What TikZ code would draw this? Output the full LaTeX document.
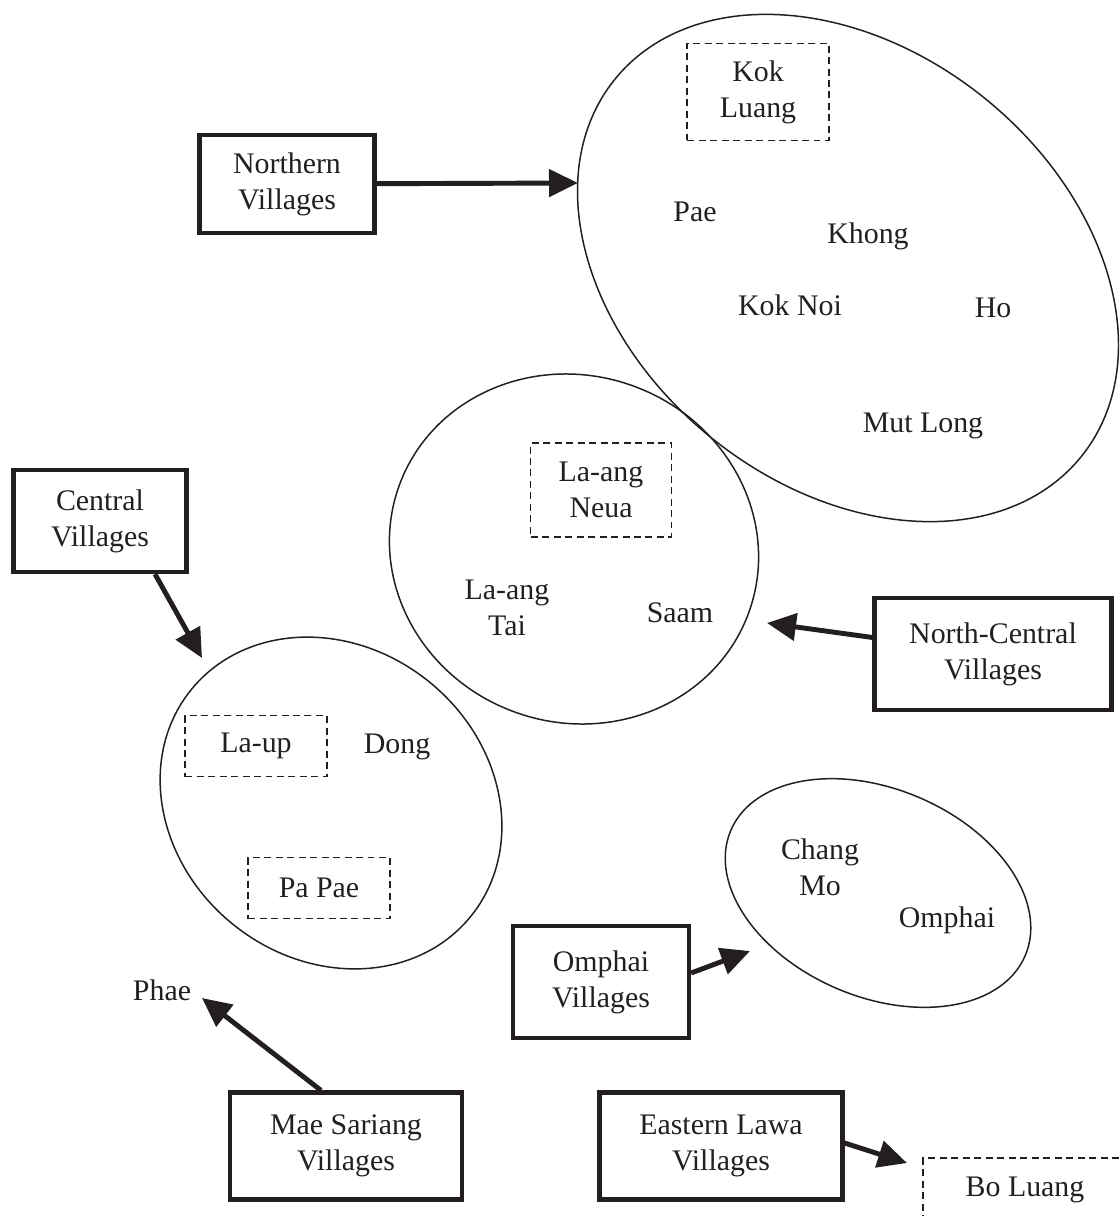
\documentclass[tikz,border=0pt]{standalone}
\usepackage{fontspec}
\setmainfont{Liberation Serif}
\usetikzlibrary{shapes.geometric,arrows.meta}
\definecolor{inkc}{HTML}{231F20}

\begin{document}
\begin{tikzpicture}[x=0.02cm, y=-0.02cm,
    every node/.style={font=\fontsize{17}{20.5}\selectfont, align=center, text=inkc, inner sep=0pt},
    grp/.style={draw=inkc, line width=2.4pt},
    vil/.style={draw=inkc, line width=1.1pt, dash pattern=on 0.14cm off 0.09cm},
    area/.style={ellipse, draw=inkc, line width=0.85pt},
    arr/.style={draw=inkc, line width=2.8pt, -{Triangle[length=0.58cm,width=0.54cm]}}]
    \useasboundingbox (0,0) rectangle (1119,1216);
    \clip (0,0) rectangle (1119,1216);
    % village areas
    \node[area, minimum width=12cm, minimum height=8.72cm, rotate=-39] (north) at (848,268) {};
    \node[area, minimum width=7.44cm, minimum height=6.94cm, rotate=-20] (ncentral) at (574,549) {};
    \node[area, minimum width=7.2cm, minimum height=6.24cm, rotate=-39] (central) at (331,803) {};
    \node[area, minimum width=6.4cm, minimum height=4.16cm, rotate=-23] (omphai) at (878,893) {};
    % northern villages
    \node[vil, minimum width=2.84cm, minimum height=1.94cm] (kl) at (758,92) {Kok\\Luang};
    \node (pae) at (695,212) {Pae};
    \node (khong) at (868,236) {Khong};
    \node (kn) at (790,305) {Kok Noi};
    \node (ho) at (993,308) {Ho};
    \node (ml) at (923,426) {Mut Long};
    % north-central villages
    \node[vil, minimum width=2.82cm, minimum height=1.88cm] (lan) at (601,490) {La-ang\\Neua};
    \node (lat) at (507,608) {La-ang\\Tai};
    \node (saam) at (680,613) {Saam};
    % central villages
    \node[vil, minimum width=2.84cm, minimum height=1.22cm] (lu) at (256,746) {La-up};
    \node (dong) at (397,747) {Dong};
    \node[vil, minimum width=2.84cm, minimum height=1.22cm] (pp) at (319,888) {Pa Pae};
    % omphai villages
    \node (cm) at (820,867) {Chang\\Mo};
    \node (om) at (947,920) {Omphai};
    \node (phae) at (162,990) {Phae};
    \node[vil, minimum width=4.08cm, minimum height=1.28cm] (bl) at (1025,1190) {Bo Luang};
    % groups
    \node[grp, minimum width=3.5cm, minimum height=1.96cm] (nv) at (287,184) {Northern\\Villages};
    \node[grp, minimum width=3.46cm, minimum height=2.04cm] (cv) at (100,521) {Central\\Villages};
    \node[grp, minimum width=4.74cm, minimum height=2.24cm] (ncv) at (993,654) {North-Central\\Villages};
    \node[grp, minimum width=3.52cm, minimum height=2.24cm] (ov) at (601,982) {Omphai\\Villages};
    \node[grp, minimum width=4.64cm, minimum height=2.14cm] (msv) at (346,1146) {Mae Sariang\\Villages};
    \node[grp, minimum width=4.86cm, minimum height=2.14cm] (elv) at (721,1146) {Eastern Lawa\\Villages};
    % arrow tips
    \coordinate (nv-tip) at (578,183);
    \coordinate (cv-tip) at (202,658);
    \coordinate (ncv-tip) at (767,623);
    \coordinate (ov-tip) at (750,951);
    \coordinate (msv-tip) at (202,998);
    \coordinate (elv-tip) at (907,1163);
    \draw[arr] (nv) -- (nv-tip);
    \draw[arr] ([xshift=1.1cm]cv.south) -- (cv-tip);
    \draw[arr] (ncv) -- (ncv-tip);
    \draw[arr] ([yshift=0.18cm]ov.east) -- (ov-tip);
    \draw[arr] ([xshift=-0.5cm]msv.north) -- (msv-tip);
    \draw[arr] ([yshift=0.06cm]elv.east) -- (elv-tip);
  \end{tikzpicture}
\end{document}
